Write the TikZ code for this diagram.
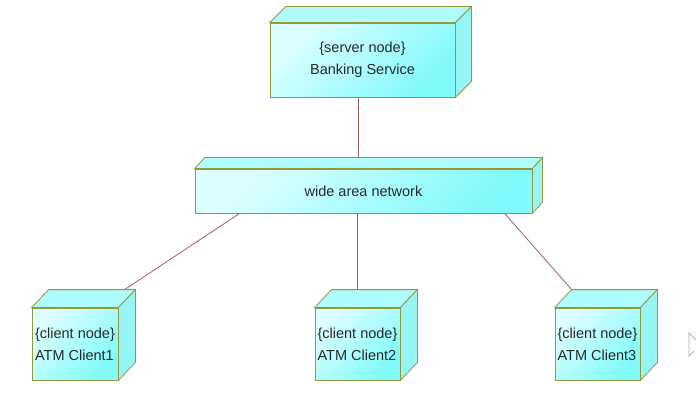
\documentclass[tikz,border=0pt]{standalone}
\usepackage{fontspec}
\setmainfont{Liberation Sans}
\usetikzlibrary{calc}
\definecolor{edgec}{RGB}{150,150,60}
\definecolor{lnk}{RGB}{165,95,95}
\definecolor{cfrontA}{RGB}{222,255,255}
\definecolor{cfrontB}{RGB}{128,250,250}
\definecolor{ctop}{RGB}{175,252,252}
\definecolor{cside}{RGB}{150,246,246}
\definecolor{txt}{RGB}{40,40,40}
\tikzset{
  frontface/.style={draw=edgec, line width=0.8pt, top color=cfrontA, bottom color=cfrontB, shading angle=45, inner sep=0pt, text=txt, font=\fontsize{14.5}{22}\selectfont},
  topface/.style={draw=edgec, line width=0.8pt, fill=ctop},
  sideface/.style={draw=edgec, line width=0.8pt, fill=cside},
  link/.style={draw=lnk, line width=0.8pt}
}
\newcommand\boxfaces[3]{%
  \draw[topface] (#1.north west) -- ++(#2,#3) -- ($(#1.north east)+(#2,#3)$) -- (#1.north east) -- cycle;
  \draw[sideface] (#1.north east) -- ++(#2,#3) -- ($(#1.south east)+(#2,#3)$) -- (#1.south east) -- cycle;
}
\begin{document}
\begin{tikzpicture}[x=1pt,y=-1pt]
\useasboundingbox (0,0) rectangle (696,409);
\fill[white] (0,0) rectangle (696,409);
% front faces
\node[frontface, minimum width=185pt, minimum height=74pt, align=center] (srv) at (362.5,60) {\{server node\}\\Banking Service};
\node[frontface, minimum width=337pt, minimum height=44pt, align=center] (wan) at (363.5,191) {wide area network};
\node[frontface, minimum width=86pt, minimum height=72pt, align=left] (c1) at (75,344) {\{client node\}\\ATM Client1};
\node[frontface, minimum width=85pt, minimum height=72pt, align=left] (c2) at (357.5,344) {\{client node\}\\ATM Client2};
\node[frontface, minimum width=85pt, minimum height=72pt, align=left] (c3) at (597.5,344) {\{client node\}\\ATM Client3};
% 3D faces
\boxfaces{srv}{16}{-16}
\boxfaces{wan}{10}{-11}
\boxfaces{c1}{17}{-18}
\boxfaces{c2}{17}{-18}
\boxfaces{c3}{17}{-18}
% connector end points
\coordinate (wanb) at ($(wan.north west)+(10,-11)$);
\coordinate (srvb) at ($(srv.south)+(-4,0)$);
\coordinate (w1) at ($(wan.south west)+(45,0)$);
\coordinate (w3) at ($(wan.south west)+(310,0)$);
\coordinate (c1b) at ($(c1.north west)+(93,-18)$);
\coordinate (c2b) at ($(c2.north)+(0,-18)$);
\coordinate (c3b) at ($(c3.north west)+(17,-18)$);
% connectors
\draw[link] (srvb) -- (srvb |- wanb);
\draw[link] (w1) -- (c1b);
\draw[link] (wan.south -| c2b) -- (c2b);
\draw[link] (w3) -- (c3b);
% cursor fragment
\draw[gray!70, line width=0.7pt] (696,340) -- (689,333) -- (689,356) -- (694,351);
\end{tikzpicture}
\end{document}
